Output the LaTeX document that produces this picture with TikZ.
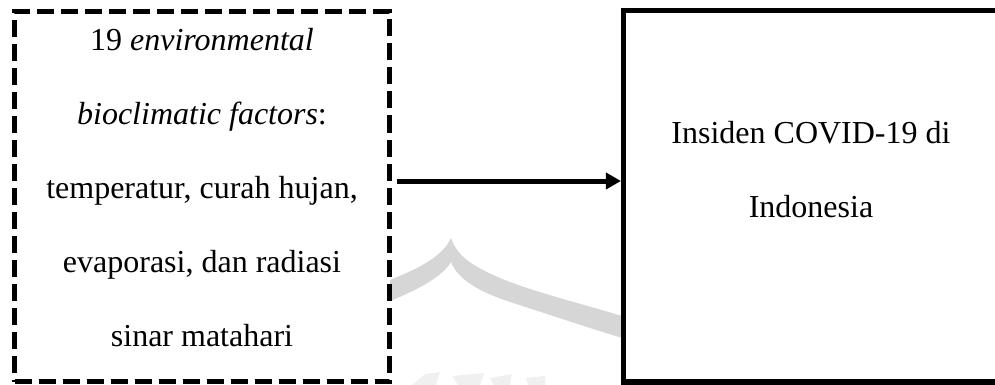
\documentclass[tikz,border=0pt]{standalone}
\usepackage{fontspec}
\setmainfont{Liberation Serif}
\usetikzlibrary{arrows.meta}
\begin{document}
\begin{tikzpicture}[x=1pt,y=-1pt,
  dashbox/.style={draw=black, line width=5.5pt, dash pattern=on 17pt off 7pt, fill=white, rectangle, inner sep=0pt, minimum width=375pt, minimum height=369.8pt},
  solidbox/.style={draw=black, line width=5.5pt, fill=white, rectangle, inner sep=0pt, minimum width=375pt, minimum height=371.7pt},
  boxtext/.style={align=center, inner sep=0pt, font=\fontsize{32}{74}\selectfont, anchor=north},
  wm/.style={fill=black!16, draw=none},
  wmfaint/.style={fill=black!6, draw=none},
  conn/.style={line width=5pt, -{Triangle[length=15pt,width=16pt]}}]
\useasboundingbox (0,0) rectangle (995,385);
% watermark (behind the boxes)
\fill[wm] (360,292) .. controls (405,274) and (440,262) .. (451,238)
  .. controls (458,258) and (475,268) .. (510,282)
  .. controls (550,297) and (600,308) .. (650,325)
  -- (650,346) .. controls (600,332) and (560,318) .. (510,302)
  .. controls (480,292) and (458,280) .. (451,262)
  .. controls (440,280) and (410,294) .. (360,313) -- cycle;
\fill[wmfaint] (412,385) -- (425,374) -- (440,372) -- (436,385) -- cycle;
\fill[wmfaint] (452,376) -- (484,373) -- (480,385) -- (458,385) -- cycle;
\fill[wmfaint] (490,378) -- (512,374) -- (510,385) -- (494,385) -- cycle;
\fill[wmfaint] (526,378) -- (545,376) -- (545,385) -- (528,385) -- cycle;
% boxes
\node[dashbox] (L) at (202,196.6) {};
\node[solidbox] (R) at (811.2,196.2) {};
\node[boxtext] (Ltext) at (202,28.1) {19 \textit{environmental}\\ \textit{bioclimatic factors}:\\ temperatur, curah hujan,\\ evaporasi, dan radiasi\\ sinar matahari};
\node[boxtext] (Rtext) at (811,120.8) {Insiden COVID-19 di\\ Indonesia};
% connector
\coordinate (a) at (397,181);
\draw[conn] (a) -- (a -| R.west);
\end{tikzpicture}
\end{document}
